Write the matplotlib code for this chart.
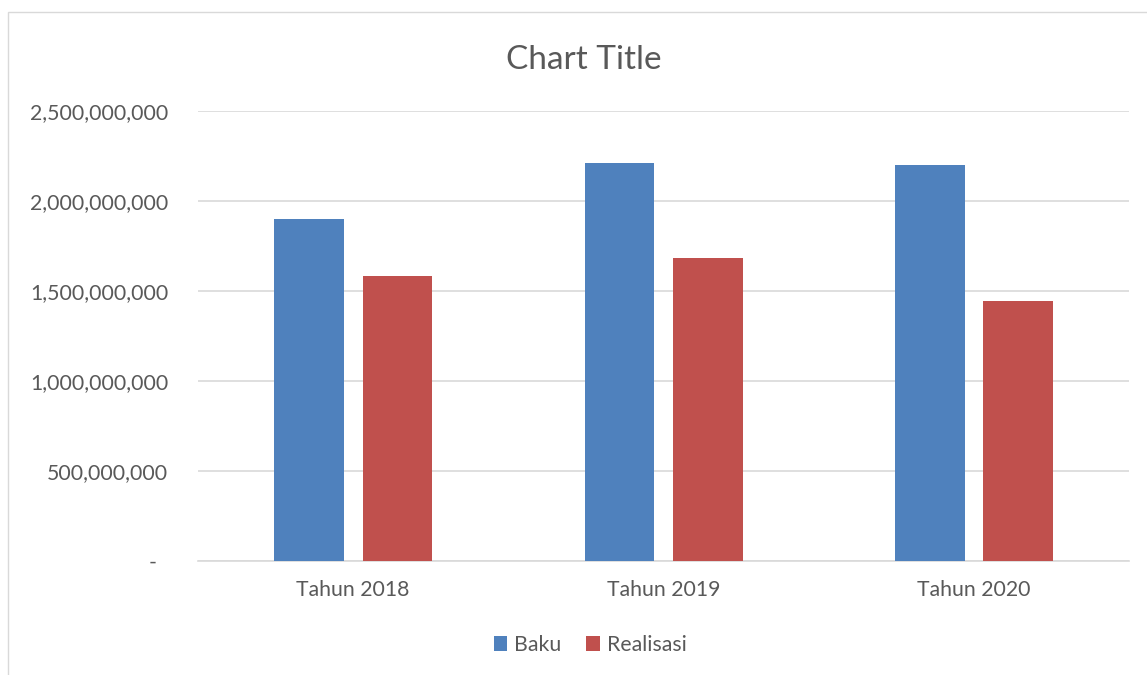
import numpy as np
import matplotlib.pyplot as plt
from matplotlib.patches import Rectangle
from matplotlib.ticker import FuncFormatter

# Data
kategori = ['Tahun 2018', 'Tahun 2019', 'Tahun 2020']
baku = [1900000000, 2211000000, 2198000000]
realisasi = [1583000000, 1683000000, 1444000000]

plt.rcParams['font.family'] = ['Lato', 'DejaVu Sans']
warna_teks = '#595959'

fig = plt.figure(figsize=(11.47, 6.75), dpi=100)
ax = fig.add_axes([198 / 1147, 114 / 675, 931 / 1147, 450 / 675])

# Chart area border (extends past the right/bottom edges)
fig.patches.append(Rectangle((8 / 1147, -0.1), 1.2, (675 - 12) / 675 + 0.1,
                             transform=fig.transFigure, fill=False,
                             edgecolor='#D9D9D9', linewidth=1.0))

x = np.arange(len(kategori))
lebar = 0.225
ax.bar(x - 0.142, baku, lebar, color='#4F81BD', label='Baku', zorder=3)
ax.bar(x + 0.143, realisasi, lebar, color='#C0504D', label='Realisasi', zorder=3)

ax.set_xlim(-0.5, 2.5)
ax.set_ylim(0, 2500000000)
ax.set_yticks(np.arange(0, 2500000001, 500000000))

def fmt(v, pos):
    if v == 0:
        return '-  '
    return f'{v:,.0f}'

ax.yaxis.set_major_formatter(FuncFormatter(fmt))
ax.set_xticks(x)
ax.set_xticklabels(kategori)

ax.grid(axis='y', color='#D9D9D9', linewidth=1.2, zorder=0)
for s in ['top', 'right', 'left']:
    ax.spines[s].set_visible(False)
ax.spines['bottom'].set_color('#D9D9D9')
ax.spines['bottom'].set_linewidth(1.2)

ax.tick_params(axis='y', length=0, pad=21.5, labelsize=15.3, labelcolor=warna_teks)
ax.tick_params(axis='x', length=0, pad=14, labelsize=15.3, labelcolor=warna_teks)

fig.text(584 / 1147, (675 - 60) / 675, 'Chart Title', ha='center', va='center',
         fontsize=24, color=warna_teks)

fig.legend(loc='center', bbox_to_anchor=(590 / 1147, (675 - 645) / 675), ncol=2,
           frameon=False, fontsize=15.3, labelcolor=warna_teks, handlelength=0.65,
           handleheight=0.65, handletextpad=0.3, columnspacing=1.2)

fig.savefig('out.png', dpi=100)
